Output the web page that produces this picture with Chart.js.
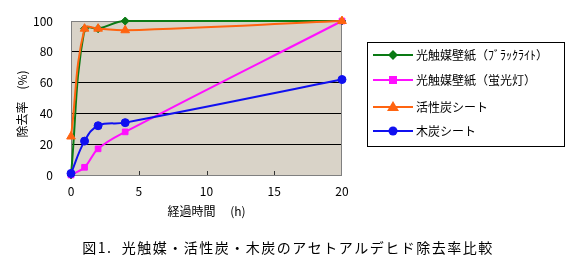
<!DOCTYPE html>
<html lang="ja">
<head>
<meta charset="utf-8">
<script src="https://cdn.jsdelivr.net/npm/chart.js@4"></script>
<style>
  body { margin: 0; background: #fff; }
</style>
</head>
<body>
<canvas id="chart" width="576" height="270"></canvas>
<script>
// 経過時間 (h)
const hours = [0, 1, 2, 4, 20];
const seriesNames = ['光触媒壁紙（ﾌﾞﾗｯｸﾗｲﾄ）', '光触媒壁紙（蛍光灯）', '活性炭シート', '木炭シート'];
// 除去率 (%)
const wallpaperBlackLight = [0, 95, 95, 100, 100];
const wallpaperFluorescent = [0, 5, 17, 28, 100];
const activatedCarbon = [25, 95, 95, 94, 100];
const charcoal = [1, 22, 32, 34, 62];

const FONT = "'Noto Sans CJK JP', 'Noto Sans', sans-serif";
const caption = '図1.  光触媒・活性炭・木炭のアセトアルデヒド除去率比較';

function toPoints(values) {
    return hours.map((h, i) => ({ x: h, y: values[i] }));
}

function makeSet(label, values, color, style, order) {
    return {
        label: label,
        data: toPoints(values),
        borderColor: color,
        backgroundColor: color,
        borderWidth: 2,
        pointStyle: style,
        pointRadius: style === 'triangle' ? 5 : 4,
        pointBorderWidth: 1,
        tension: 0.4,
        clip: false,
        order: order
    };
}

// 背景・枠・目盛り・凡例・図題
const plotFrame = {
    id: 'plotFrame',
    beforeDraw(chart) {
        const a = chart.chartArea;
        const ctx = chart.ctx;
        ctx.save();
        ctx.fillStyle = '#d9d3c8';
        ctx.fillRect(a.left, a.top, a.right - a.left, a.bottom - a.top);
        ctx.restore();
    },
    beforeDatasetsDraw(chart) {
        const a = chart.chartArea;
        const ctx = chart.ctx;
        const x = chart.scales.x;
        ctx.save();
        ctx.strokeStyle = '#808080';
        ctx.lineWidth = 1;
        ctx.strokeRect(a.left + 0.5, a.top + 0.5, a.right - a.left - 1, a.bottom - a.top);
        ctx.strokeStyle = '#333';
        [5, 10, 15].forEach(v => {
            const px = Math.round(x.getPixelForValue(v)) + 0.5;
            ctx.beginPath();
            ctx.moveTo(px, a.bottom);
            ctx.lineTo(px, a.bottom - 4);
            ctx.stroke();
        });
        ctx.restore();
    },
    afterDraw(chart) {
        const ctx = chart.ctx;
        ctx.save();
        // 凡例
        const box = { left: 367, top: 42, right: 564, bottom: 146 };
        ctx.strokeStyle = '#000';
        ctx.lineWidth = 1;
        ctx.strokeRect(box.left + 0.5, box.top + 0.5, box.right - box.left, box.bottom - box.top);
        const rows = [55, 80, 107, 131];
        ctx.font = '12px ' + FONT;
        ctx.textBaseline = 'middle';
        chart.data.datasets.forEach((ds, i) => {
            const y = rows[i];
            ctx.strokeStyle = ds.borderColor;
            ctx.fillStyle = ds.borderColor;
            ctx.lineWidth = 2;
            ctx.beginPath();
            ctx.moveTo(373, y);
            ctx.lineTo(413, y);
            ctx.stroke();
            const cx = 393;
            ctx.beginPath();
            if (ds.pointStyle === 'rectRot') {
                ctx.moveTo(cx, y - 5); ctx.lineTo(cx + 5, y); ctx.lineTo(cx, y + 5); ctx.lineTo(cx - 5, y);
            } else if (ds.pointStyle === 'rect') {
                ctx.rect(cx - 4, y - 4, 8, 8);
            } else if (ds.pointStyle === 'triangle') {
                ctx.moveTo(cx, y - 6); ctx.lineTo(cx + 6, y + 4); ctx.lineTo(cx - 6, y + 4);
            } else {
                ctx.arc(cx, y, 4.5, 0, Math.PI * 2);
            }
            ctx.closePath();
            ctx.fill();
            ctx.fillStyle = '#000';
            ctx.textAlign = 'left';
            ctx.fillText(ds.label, 416, y);
        });
        // 図題
        ctx.font = '14px ' + FONT;
        ctx.letterSpacing = '1.5px';
        ctx.textAlign = 'center';
        ctx.fillStyle = '#000';
        ctx.fillText(caption, 288, 248);
        ctx.restore();
    }
};

new Chart(document.getElementById('chart'), {
    type: 'line',
    data: {
        datasets: [
            makeSet(seriesNames[0], wallpaperBlackLight, '#0a7a14', 'rectRot', 3),
            makeSet(seriesNames[1], wallpaperFluorescent, '#ff10ff', 'rect', 2),
            makeSet(seriesNames[2], activatedCarbon, '#ff6410', 'triangle', 1),
            makeSet(seriesNames[3], charcoal, '#1010f0', 'circle', 0)
        ]
    },
    options: {
        responsive: false,
        animation: false,
        layout: { padding: { left: 0, right: 234, top: 21, bottom: 51 } },
        plugins: {
            legend: { display: false },
            tooltip: { enabled: false }
        },
        scales: {
            x: {
                type: 'linear',
                min: 0,
                max: 20,
                ticks: { stepSize: 5, padding: 9, color: '#000', font: { family: FONT, size: 12 } },
                grid: { display: false, drawTicks: false, tickLength: 0 },
                border: { display: false },
                title: {
                    display: true,
                    text: '経過時間　 (h)',
                    color: '#000',
                    font: { family: FONT, size: 12 },
                    padding: 0
                },
                afterFit(scale) { scale.height = 44; }
            },
            y: {
                min: 0,
                max: 100,
                ticks: { stepSize: 20, padding: 3, color: '#000', font: { family: FONT, size: 12 } },
                grid: {
                    color: ctx => ctx.tick.value === 0 ? 'rgba(0,0,0,0)' : '#000',
                    lineWidth: 1,
                    drawTicks: true,
                    tickLength: 15,
                    tickColor: 'rgba(0,0,0,0)'
                },
                border: { display: false },
                title: {
                    display: true,
                    text: '除去率　(%)　',
                    color: '#000',
                    font: { family: FONT, size: 12 },
                    padding: { top: 15, bottom: 0 }
                },
                afterFit(scale) { scale.width = 71; }
            }
        }
    },
    plugins: [plotFrame]
});
</script>
</body>
</html>
